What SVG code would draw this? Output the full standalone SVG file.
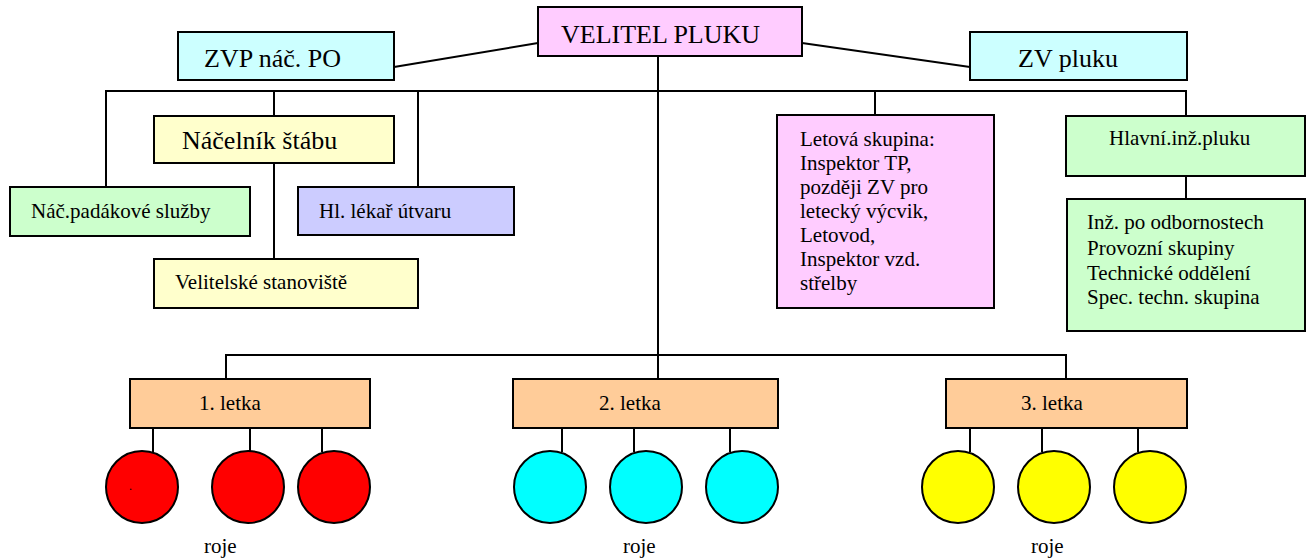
<svg xmlns="http://www.w3.org/2000/svg" width="1306" height="558" viewBox="0 0 1306 558">
<style>
.b{stroke:#000;stroke-width:2}
.c{stroke:#000;stroke-width:2;fill:none}
text{font-family:'Liberation Serif','Times New Roman','DejaVu Serif',serif;fill:#000}
.L{font-size:26px}
.S{font-size:21px}
</style>
<rect width="1306" height="558" fill="#fff"/>
<g id="connectors" class="c">
<line x1="394" y1="67" x2="538" y2="43"/>
<line x1="802" y1="43" x2="970" y2="67"/>
<polyline points="106,187 106,91 1186,91 1186,116"/>
<line x1="274" y1="91" x2="274" y2="116"/>
<line x1="418" y1="91" x2="418" y2="187"/>
<line x1="875" y1="91" x2="875" y2="115"/>
<line x1="274" y1="163" x2="274" y2="259"/>
<line x1="1186" y1="176" x2="1186" y2="199"/>
<line x1="658" y1="56" x2="658" y2="379"/>
<polyline points="226,379 226,355 1066,355 1066,379"/>
<line x1="153" y1="428" x2="153" y2="452"/>
<line x1="250" y1="428" x2="250" y2="452"/>
<line x1="322" y1="428" x2="322" y2="452"/>
<line x1="562" y1="428" x2="562" y2="452"/>
<line x1="634" y1="428" x2="634" y2="452"/>
<line x1="730" y1="428" x2="730" y2="452"/>
<line x1="970" y1="428" x2="970" y2="452"/>
<line x1="1042" y1="428" x2="1042" y2="452"/>
<line x1="1138" y1="428" x2="1138" y2="452"/>
</g>
<g id="velitel"><rect class="b" x="538" y="7" width="264" height="49" fill="#FFCCFF"/><text class="L" x="561" y="43">VELITEL PLUKU</text></g>
<g id="zvp"><rect class="b" x="178" y="32" width="216" height="48" fill="#CCFFFF"/><text class="L" x="204" y="67">ZVP náč. PO</text></g>
<g id="zv"><rect class="b" x="970" y="32" width="217" height="48" fill="#CCFFFF"/><text class="L" x="1018" y="67">ZV pluku</text></g>
<g id="nacelnik"><rect class="b" x="154" y="116" width="240" height="47" fill="#FFFFCC"/><text class="L" x="182" y="149">Náčelník štábu</text></g>
<g id="padak"><rect class="b" x="10" y="187" width="240" height="49" fill="#CCFFCC"/><text class="S" x="31" y="218">Náč.padákové služby</text></g>
<g id="lekar"><rect class="b" x="298" y="187" width="216" height="48" fill="#CCCCFF"/><text class="S" x="319" y="218">Hl. lékař útvaru</text></g>
<g id="stanoviste"><rect class="b" x="154" y="259" width="264" height="49" fill="#FFFFCC"/><text class="S" x="175" y="289">Velitelské stanoviště</text></g>
<g id="letova"><rect class="b" x="777" y="115" width="217" height="193" fill="#FFCCFF"/>
<text class="S" x="800" y="146">Letová skupina:</text>
<text class="S" x="800" y="170">Inspektor TP,</text>
<text class="S" x="800" y="194">později ZV pro</text>
<text class="S" x="800" y="218">letecký výcvik,</text>
<text class="S" x="800" y="242">Letovod,</text>
<text class="S" x="800" y="266">Inspektor vzd.</text>
<text class="S" x="800" y="290">střelby</text></g>
<g id="hlavni"><rect class="b" x="1066" y="116" width="239" height="60" fill="#CCFFCC"/><text class="S" x="1109" y="145">Hlavní.inž.pluku</text></g>
<g id="odbornosti"><rect class="b" x="1067" y="199" width="238" height="132" fill="#CCFFCC"/>
<text class="S" x="1087" y="229">Inž. po odbornostech</text>
<text class="S" x="1087" y="255">Provozní skupiny</text>
<text class="S" x="1087" y="280">Technické oddělení</text>
<text class="S" x="1087" y="304">Spec. techn. skupina</text></g>
<g id="letka1"><rect class="b" x="130" y="379" width="240" height="49" fill="#FFCC99"/><text class="S" x="199" y="410">1. letka</text></g>
<g id="letka2"><rect class="b" x="513" y="379" width="265" height="49" fill="#FFCC99"/><text class="S" x="599" y="410">2. letka</text></g>
<g id="letka3"><rect class="b" x="946" y="379" width="241" height="49" fill="#FFCC99"/><text class="S" x="1021" y="410">3. letka</text></g>
<g id="roje1">
<circle class="b" cx="142" cy="487" r="36" fill="#FF0000"/>
<circle class="b" cx="248" cy="487" r="36" fill="#FF0000"/>
<circle class="b" cx="334" cy="487" r="36" fill="#FF0000"/>
<text x="129" y="490" font-size="12">.</text>
<text class="S" x="204" y="553">roje</text></g>
<g id="roje2">
<circle class="b" cx="550" cy="487" r="36" fill="#00FFFF"/>
<circle class="b" cx="646" cy="487" r="36" fill="#00FFFF"/>
<circle class="b" cx="742" cy="487" r="36" fill="#00FFFF"/>
<text class="S" x="623" y="553">roje</text></g>
<g id="roje3">
<circle class="b" cx="958" cy="487" r="36" fill="#FFFF00"/>
<circle class="b" cx="1054" cy="487" r="36" fill="#FFFF00"/>
<circle class="b" cx="1150" cy="487" r="36" fill="#FFFF00"/>
<text class="S" x="1031" y="553">roje</text></g>
</svg>
